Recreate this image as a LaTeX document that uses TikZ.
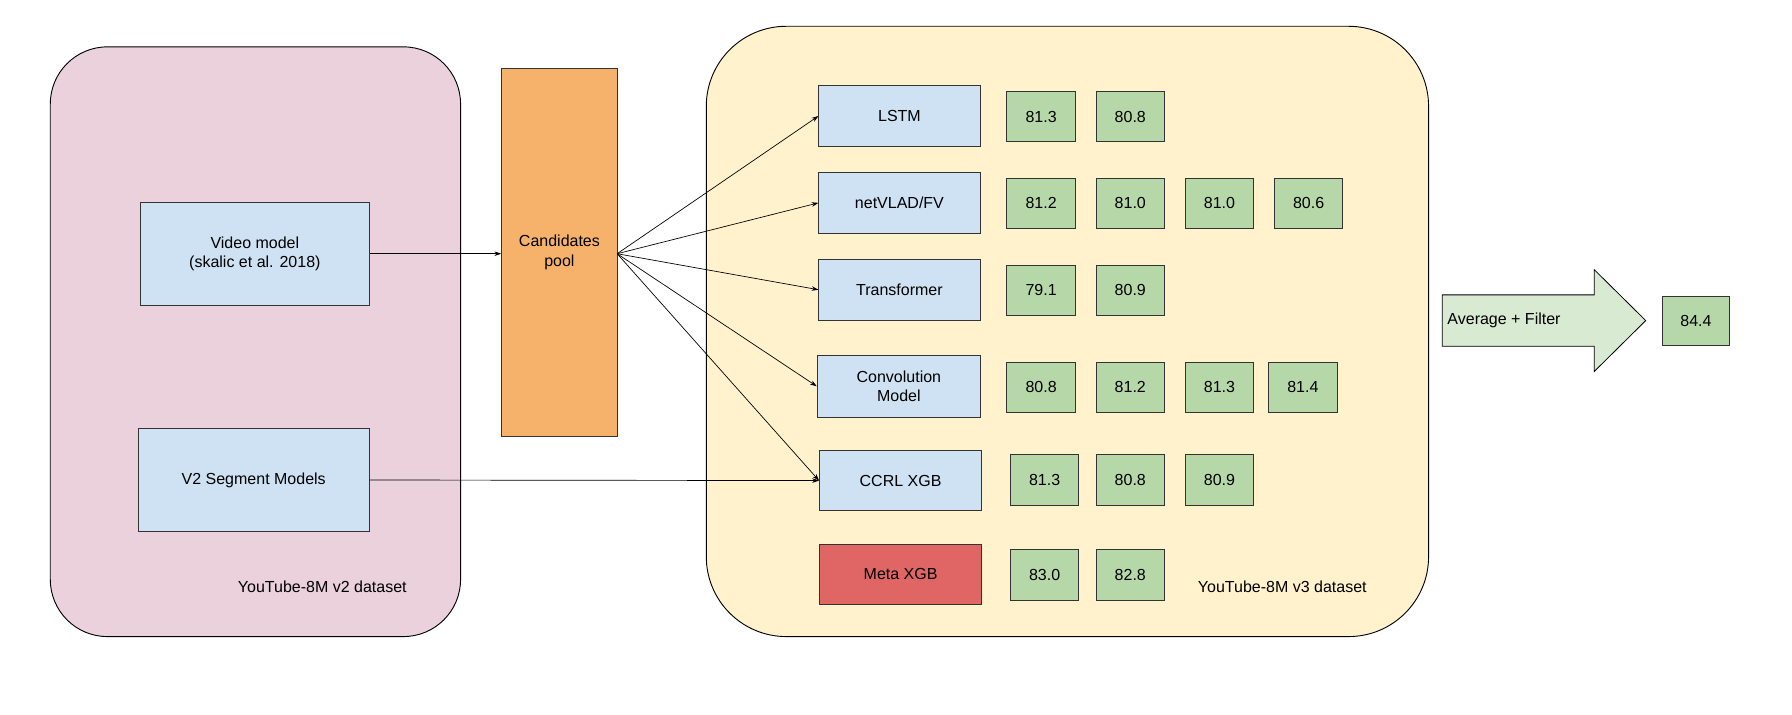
\documentclass[tikz,border=0pt]{standalone}
\usepackage{fontspec}
\setmainfont{Liberation Sans}
\usetikzlibrary{arrows.meta,shapes.arrows}
\definecolor{pinkbg}{HTML}{EAD1DC}
\definecolor{yelbg}{HTML}{FFF2CC}
\definecolor{bluebx}{HTML}{CFE2F3}
\definecolor{orng}{HTML}{F6B26B}
\definecolor{grn}{HTML}{B6D7A8}
\definecolor{lgrn}{HTML}{D9EAD3}
\definecolor{redbx}{HTML}{E06666}
\begin{document}
\begin{tikzpicture}[x=1pt,y=-1pt,font=\fontsize{14}{17}\selectfont,
  box/.style={draw=black!80,line width=0.7pt,inner sep=0pt,align=center},
  model/.style={box,fill=bluebx,minimum width=141,minimum height=53},
  score/.style={box,fill=grn,minimum width=60,minimum height=44},
  arr/.style={-{Stealth[length=6pt,width=4pt]},line width=0.6pt}]
\useasboundingbox (0,0) rectangle (1568,625.6);
\draw[fill=pinkbg,line width=0.8pt,rounded corners=50] (44,41) rectangle (403,557);
\draw[fill=yelbg,line width=0.8pt,rounded corners=70] (618,23) rectangle (1250,557);
\node[box,fill=bluebx,minimum width=200,minimum height=90] (vm) at (223,222) {Video model\\(skalic et al. 2018)};
\node[box,fill=bluebx,minimum width=202,minimum height=90] (v2) at (222,420) {V2 Segment Models};
\node[anchor=base] (t2) at (282,518) {YouTube-8M v2 dataset};
\node[box,fill=orng,minimum width=101,minimum height=322] (cp) at (489.5,221) {Candidates\\pool};
\node[model] (lstm) at (787,101.5) {LSTM};
\node[model] (nv) at (787,177.5) {netVLAD/FV};
\node[model] (tr) at (787,253.5) {Transformer};
\node[model,minimum width=143,minimum height=54] (cv) at (786.5,338) {Convolution\\Model};
\node[model,minimum width=142] (cc) at (788,420.5) {CCRL XGB};
\node[model,minimum width=142,fill=redbx] (mx) at (788,502.5) {Meta XGB};
\node[anchor=base] (t3) at (1122,518) {YouTube-8M v3 dataset};
\node[score] (s11) at (911,102) {81.3};
\node[score] (s12) at (989,102) {80.8};
\node[score] (s21) at (911,178) {81.2};
\node[score] (s22) at (989,178) {81.0};
\node[score] (s23) at (1067,178) {81.0};
\node[score] (s24) at (1145,178) {80.6};
\node[score] (s31) at (911,254) {79.1};
\node[score] (s32) at (989,254) {80.9};
\node[score] (s41) at (911,339) {80.8};
\node[score] (s42) at (989,339) {81.2};
\node[score] (s43) at (1067,339) {81.3};
\node[score] (s44) at (1140,339) {81.4};
\node[score] (s51) at (914,420) {81.3};
\node[score] (s52) at (989,420) {80.8};
\node[score] (s53) at (1067,420) {80.9};
\node[score] (s61) at (914,503) {83.0};
\node[score] (s62) at (989,503) {82.8};
\draw[fill=lgrn,line width=0.7pt] (1262,258) -- (1395,258) -- (1395,236) -- (1440,280.5) -- (1395,325) -- (1395,303) -- (1262,303) -- cycle;
\node (af) at (1316,280.5) {Average + Filter};
\node[score,minimum width=58,minimum height=43] (fin) at (1484,280.5) {84.4};
\coordinate (cpo) at (540,222);
\draw[arr] (vm.east) -- (vm.east -| cp.west);
\draw[arr] (cpo) -- (lstm.west);
\draw[arr] (cpo) -- (nv.west);
\draw[arr] (cpo) -- (tr.west);
\draw[arr] (cpo) -- (cv.west);
\draw[arr] (cpo) -- (cc.west);
\draw[arr] (v2.east) -- (cc.west);
\end{tikzpicture}
\end{document}
